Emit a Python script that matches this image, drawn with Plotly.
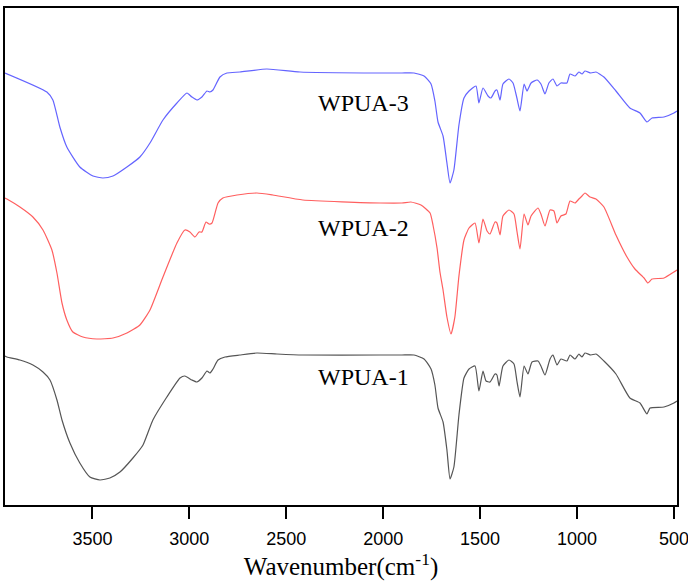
import plotly.graph_objects as go

# ---- data (wavenumber cm-1, transmittance in arbitrary offset units) ----
wn_3 = [3951, 3735, 3704, 3668, 3632, 3565, 3497, 3446, 3394, 3322, 3255, 3203, 3136, 3064, 3012,
        2987, 2961, 2935, 2909, 2894, 2878, 2842, 2806, 2739, 2600, 2429, 2016, 1903, 1841, 1789,
        1753, 1733, 1717, 1691, 1671, 1655, 1635, 1609, 1583, 1557, 1521, 1506, 1485, 1459, 1444,
        1423, 1413, 1397, 1382, 1351, 1330, 1310, 1294, 1273, 1258, 1237, 1206, 1186, 1165, 1145,
        1124, 1103, 1083, 1052, 1036, 1010, 990, 974, 959, 928, 902, 861, 799, 727, 675, 639, 613,
        551, 500, 484]
t_3 = [432, 413, 405, 378, 358, 338, 329, 327, 329, 338, 348, 362, 385, 402, 412,
       408, 405, 408, 414, 413, 415, 428, 432, 433, 436, 433, 432, 432, 432, 429,
       421, 404, 383, 369, 342, 322, 335, 380, 407, 414, 419, 402, 417, 409, 407,
       414, 415, 405, 421, 426, 422, 407, 394, 421, 414, 422, 425, 421, 411, 422,
       426, 419, 422, 422, 431, 429, 433, 431, 434, 432, 433, 428, 414, 397, 392, 383, 387,
       388, 392, 394]

wn_2 = [3951, 3941, 3874, 3807, 3755, 3709, 3683, 3657, 3632, 3601, 3549, 3477, 3394, 3322, 3255,
        3203, 3136, 3064, 3023, 2997, 2971, 2950, 2935, 2914, 2899, 2883, 2852, 2827, 2754, 2651,
        2569, 2414, 2016, 1903, 1857, 1805, 1758, 1743, 1722, 1707, 1691, 1671, 1650, 1630, 1609,
        1583, 1557, 1526, 1506, 1485, 1464, 1449, 1423, 1413, 1397, 1382, 1351, 1325, 1310, 1294,
        1273, 1253, 1237, 1201, 1186, 1165, 1139, 1119, 1103, 1083, 1057, 1036, 1010, 990, 974,
        959, 933, 902, 861, 799, 742, 701, 654, 634, 613, 551, 500, 484]
t_2 = [307, 306, 298, 288, 275, 255, 232, 202, 185, 173, 168, 166, 167, 172, 180,
       195, 228, 262, 275, 273, 268, 273, 273, 283, 281, 282, 302, 307, 310, 312,
       310, 305, 302, 302, 303, 300, 292, 280, 257, 233, 215, 188, 171, 188, 229,
       265, 277, 282, 262, 286, 274, 271, 283, 282, 270, 289, 295, 291, 274, 256,
       291, 280, 289, 297, 291, 279, 295, 294, 282, 289, 291, 304, 302, 306, 309,
       312, 308, 306, 298, 270, 248, 236, 227, 222, 226, 227, 233, 235]

wn_1 = [3951, 3941, 3874, 3807, 3755, 3719, 3683, 3657, 3616, 3565, 3513, 3461, 3410, 3358, 3291,
        3239, 3188, 3116, 3048, 3023, 2987, 2961, 2935, 2909, 2894, 2878, 2852, 2816, 2739, 2651,
        2548, 2414, 2016, 1903, 1841, 1789, 1753, 1733, 1717, 1691, 1671, 1655, 1635, 1609, 1583,
        1557, 1526, 1506, 1485, 1469, 1449, 1423, 1413, 1402, 1382, 1351, 1325, 1310, 1294, 1273,
        1253, 1232, 1201, 1186, 1165, 1139, 1124, 1103, 1083, 1052, 1036, 1010, 990, 974, 959,
        928, 902, 861, 799, 727, 675, 639, 623, 551, 500, 484]
t_1 = [149, 148, 145, 140, 133, 125, 105, 85, 62, 42, 28, 25, 27, 33, 47,
       60, 85, 108, 127, 129, 125, 123, 127, 134, 132, 136, 145, 148, 150, 152,
       151, 150, 150, 150, 150, 146, 136, 120, 97, 83, 55, 26, 38, 90, 127,
       136, 139, 114, 134, 124, 123, 131, 130, 119, 139, 145, 141, 124, 108, 139,
       131, 143, 144, 139, 130, 146, 150, 140, 146, 144, 150, 146, 151, 148, 152,
       150, 151, 144, 131, 107, 102, 91, 97, 98, 102, 104]

labels = ["WPUA-1", "WPUA-2", "WPUA-3"]
label_wn = [2100, 2100, 2100]
label_t = [128, 277, 402]

tick_vals = [3500, 3000, 2500, 2000, 1500, 1000, 500]

fig = go.Figure()
series = [(wn_1, t_1, "rgb(85,85,85)", labels[0]),
          (wn_2, t_2, "rgb(255,95,95)", labels[1]),
          (wn_3, t_3, "rgb(100,100,255)", labels[2])]
for wn, t, col, name in series:
    fig.add_trace(go.Scatter(x=wn, y=t, mode="lines", name=name,
                             line=dict(color=col, width=1.2, shape="spline", smoothing=0.5),
                             showlegend=False, hoverinfo="skip"))

for lab, x, y in zip(labels, label_wn, label_t):
    fig.add_annotation(x=x, y=y, text=lab, showarrow=False,
                       font=dict(family="Liberation Serif", size=24, color="black"),
                       xanchor="center", yanchor="middle")

fig.update_layout(
    width=688, height=584,
    margin=dict(l=5, r=11, t=8, b=79, autoexpand=False),
    paper_bgcolor="white", plot_bgcolor="white",
    xaxis=dict(range=[3951, 484], tickvals=tick_vals, automargin=False,
               ticks="outside", ticklen=12, tickwidth=2, tickcolor="black",
               ticklabeloverflow="allow", ticklabelstandoff=4,
               showline=True, linecolor="black", linewidth=2, mirror=True,
               showgrid=False, zeroline=False,
               tickfont=dict(family="Liberation Sans", size=18, color="black"),
               title=dict(text="Wavenumber(cm<sup>-1</sup>)",
                          font=dict(family="Liberation Serif", size=25, color="black"),
                          standoff=6)),
    yaxis=dict(range=[0, 497], showticklabels=False, ticks="", automargin=False,
               showline=True, linecolor="black", linewidth=2, mirror=True,
               showgrid=False, zeroline=False),
)

fig.write_html("out.html")
